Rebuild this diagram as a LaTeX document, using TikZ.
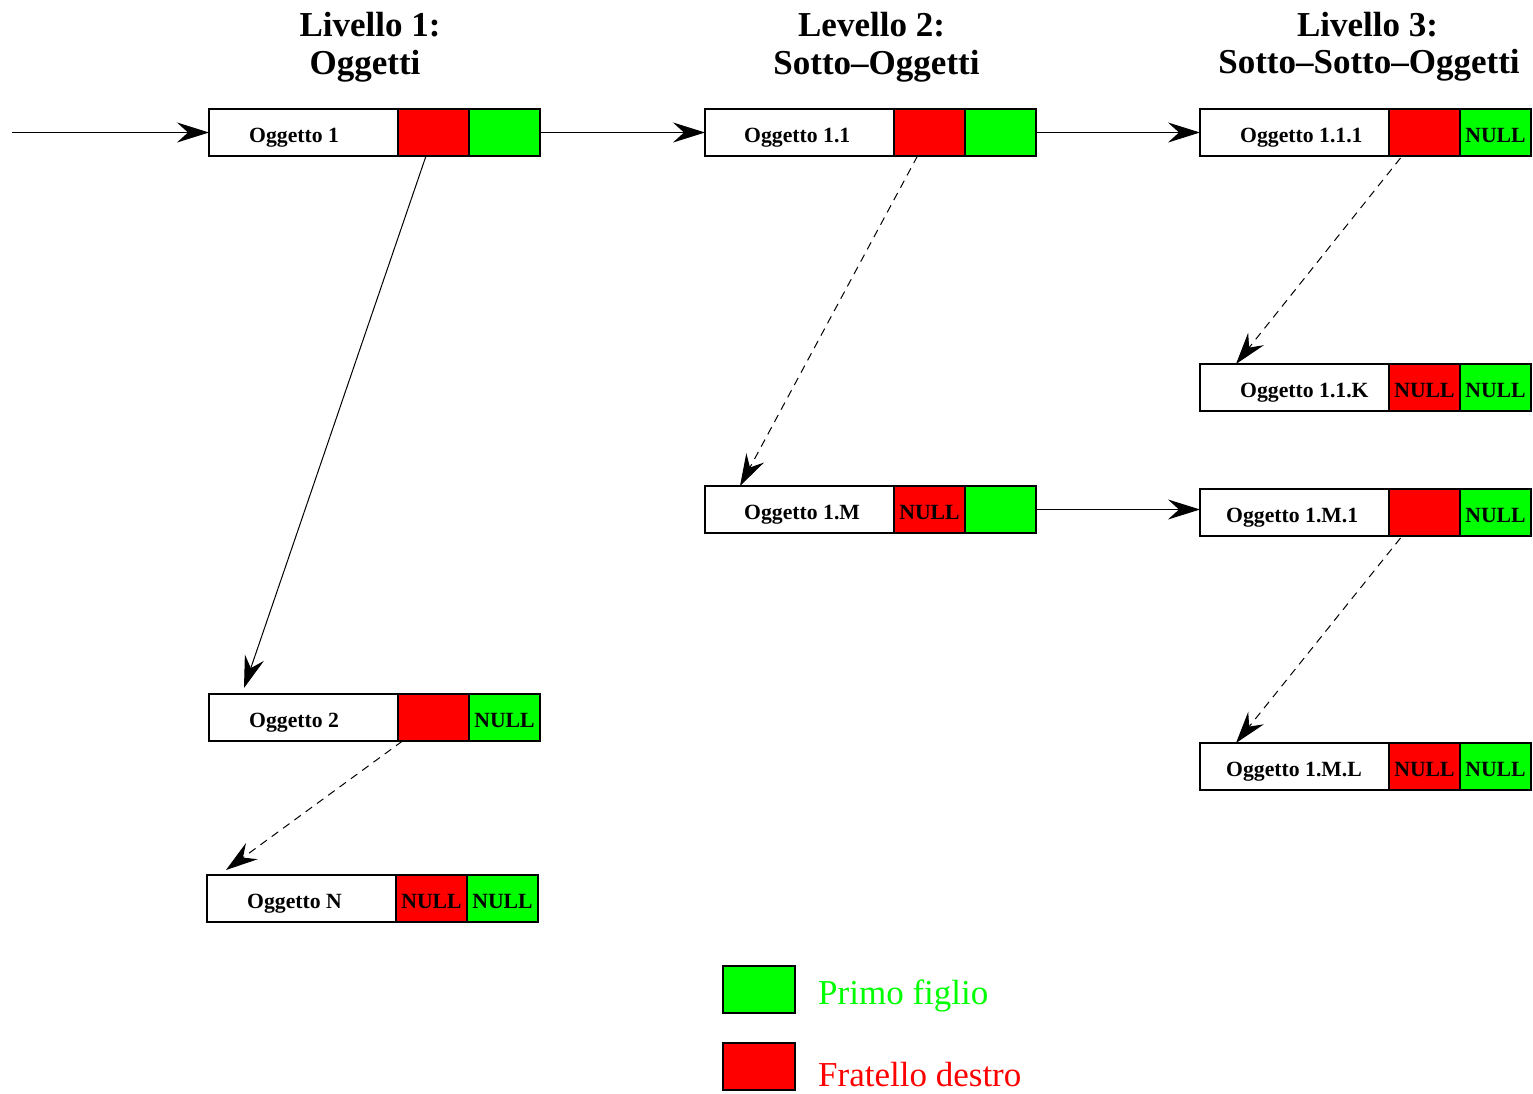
\documentclass[tikz,border=0pt]{standalone}
\usepackage{fontspec}
\setmainfont{Liberation Serif}
\usetikzlibrary{arrows.meta,calc}
\definecolor{fred}{RGB}{255,0,0}
\definecolor{fgreen}{RGB}{0,255,0}
\begin{document}
\begin{tikzpicture}[x=1pt,y=-1pt,
  cell/.style={draw, line width=1.8pt, minimum height=47pt, inner sep=0pt, outer sep=0pt, anchor=west,
    text height=19pt, text depth=0pt, font=\fontsize{21.7}{24}\selectfont\bfseries},
  namebox/.style={cell, fill=white, minimum width=189pt},
  redbox/.style={cell, fill=fred, minimum width=71pt},
  greenbox/.style={cell, fill=fgreen, minimum width=71pt},
  boxlbl/.style={font=\fontsize{21.7}{24}\selectfont\bfseries, anchor=base west, inner sep=0pt},
  title/.style={font=\fontsize{35}{40}\selectfont\bfseries, anchor=base, inner sep=0pt},
  legbox/.style={draw, line width=1.8pt, minimum width=72pt, minimum height=47pt, inner sep=0pt, outer sep=0pt, anchor=north west},
  legtxt/.style={font=\fontsize{35}{40}\selectfont, anchor=base west, inner sep=0pt},
  arr/.style={line width=1pt, -{Stealth[length=32pt,width=20pt,inset=11pt]}},
  darr/.style={arr, dash pattern=on 8pt off 6pt}
]
\useasboundingbox (0,0) rectangle (1533,1093);

% titles
\node[title] (t1a) at (370,36) {Livello 1:};
\node[title] (t1b) at (365,74) {Oggetti};
\node[title] (t2a) at (871.5,36) {Levello 2:};
\node[title] (t2b) at (876.5,74) {Sotto–Oggetti};
\node[title] (t3a) at (1367.5,36) {Livello 3:};
\node[title] (t3b) at (1369,73) {Sotto–Sotto–Oggetti};

% Oggetto 1
\node[namebox] (n1) at (209,132.5) {};
\node[redbox] (r1) at (n1.east) {};
\node[greenbox] (g1) at (r1.east) {};
\node[boxlbl] (l1) at (249,142) {Oggetto 1};

% Oggetto 1.1
\node[namebox] (n11) at (705,132.5) {};
\node[redbox] (r11) at (n11.east) {};
\node[greenbox] (g11) at (r11.east) {};
\node[boxlbl] (l11) at (744,142) {Oggetto 1.1};

% Oggetto 1.1.1
\node[namebox] (n111) at (1200,132.5) {};
\node[redbox] (r111) at (n111.east) {};
\node[greenbox] (g111) at (r111.east) {NULL};
\node[boxlbl] (l111) at (1240,142) {Oggetto 1.1.1};

% Oggetto 1.1.K
\node[namebox] (n11K) at (1200,387.5) {};
\node[redbox] (r11K) at (n11K.east) {NULL};
\node[greenbox] (g11K) at (r11K.east) {NULL};
\node[boxlbl] (l11K) at (1240,397) {Oggetto 1.1.K};

% Oggetto 1.M
\node[namebox] (n1M) at (705,509.5) {};
\node[redbox] (r1M) at (n1M.east) {NULL};
\node[greenbox] (g1M) at (r1M.east) {};
\node[boxlbl] (l1M) at (744,519) {Oggetto 1.M};

% Oggetto 1.M.1
\node[namebox] (n1M1) at (1200,512.5) {};
\node[redbox] (r1M1) at (n1M1.east) {};
\node[greenbox] (g1M1) at (r1M1.east) {NULL};
\node[boxlbl] (l1M1) at (1226,522) {Oggetto 1.M.1};

% Oggetto 1.M.L
\node[namebox] (n1ML) at (1200,766.5) {};
\node[redbox] (r1ML) at (n1ML.east) {NULL};
\node[greenbox] (g1ML) at (r1ML.east) {NULL};
\node[boxlbl] (l1ML) at (1226,776) {Oggetto 1.M.L};

% Oggetto 2
\node[namebox] (n2) at (209,717.5) {};
\node[redbox] (r2) at (n2.east) {};
\node[greenbox] (g2) at (r2.east) {NULL};
\node[boxlbl] (l2) at (249,727) {Oggetto 2};

% Oggetto N
\node[namebox] (nN) at (207,898.5) {};
\node[redbox] (rN) at (nN.east) {NULL};
\node[greenbox] (gN) at (rN.east) {NULL};
\node[boxlbl] (lN) at (247,908) {Oggetto N};

% connectors
\coordinate (start) at (12,132.5);
\draw[arr] (start) -- (n1.west);
\draw[arr] (g1.east) -- (n11.west);
\draw[arr] (g11.east) -- (n111.west);
\draw[arr] (g1M.east) -- (n1M1.west |- g1M.east);
\draw[arr] ($(r1.south)+(-7.5,0)$) -- ($(n2.north west)+(35,-6)$);
\draw[darr] ($(r11.south)+(-12,0)$) -- ($(n1M.north west)+(35,0)$);
\draw[darr] ($(r111.south)+(-24,2)$) -- ($(n11K.north west)+(36,0)$);
\draw[darr] ($(r1M1.south)+(-24,2)$) -- ($(n1ML.north west)+(36,0)$);
\draw[darr] ($(r2.south)+(-31,0)$) -- ($(nN.north west)+(19,-5)$);

% legend
\node[legbox, fill=fgreen] (lg) at (723,966) {};
\node[legbox, fill=fred] (lr) at (723,1043) {};
\node[legtxt, text=fgreen] (lgt) at (818,1004) {Primo figlio};
\node[legtxt, text=fred] (lrt) at (818,1086) {Fratello destro};
\end{tikzpicture}
\end{document}
